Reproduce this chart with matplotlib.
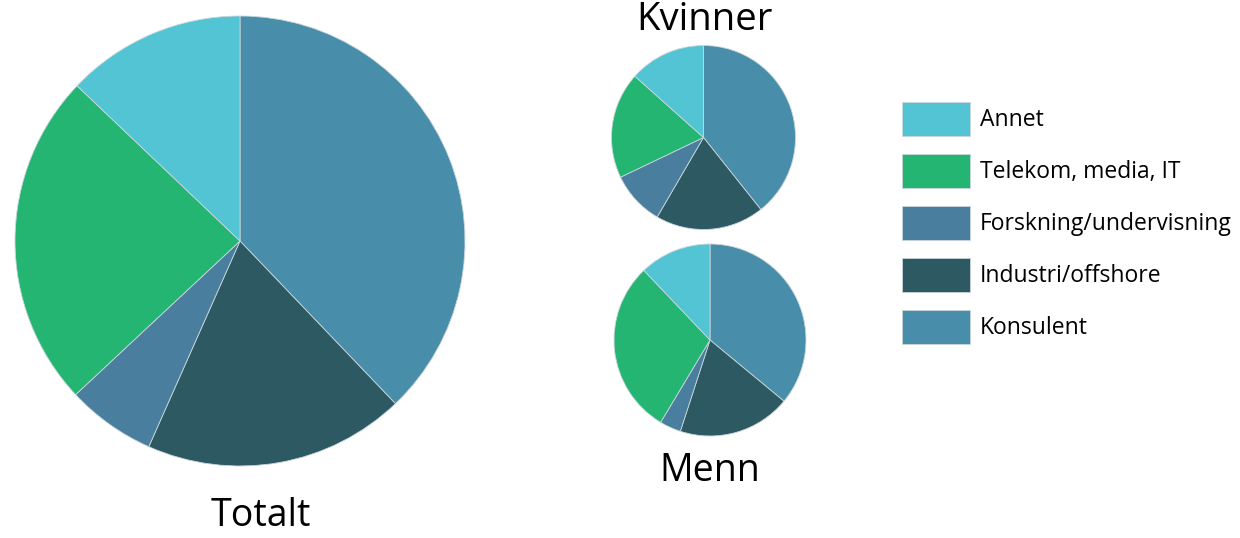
import matplotlib
matplotlib.use("Agg")
import matplotlib.pyplot as plt

plt.rcParams['font.family'] = ['Open Sans', 'DejaVu Sans']

# kategorier i tegnerekkefølge (med klokka fra toppen)
categories = ['Konsulent', 'Industri/offshore', 'Forskning/undervisning',
              'Telekom, media, IT', 'Annet']
colors = ['#488DAA', '#2D5962', '#4A7E9E', '#24B573', '#52C4D4']

totalt = [37.9, 18.8, 6.4, 24.1, 12.9]
kvinner = [39.3, 19.1, 9.5, 18.7, 13.4]
menn = [36.0, 19.0, 3.6, 29.3, 12.1]

legend_order = ['Annet', 'Telekom, media, IT', 'Forskning/undervisning',
                'Industri/offshore', 'Konsulent']

W, H = 1240, 538
fig = plt.figure(figsize=(W / 100, H / 100), dpi=100)


def pie_axes(cx, cy, r):
    # akser i pikselkoordinater, origo oppe til venstre
    return fig.add_axes([(cx - r) / W, (H - cy - r) / H, 2 * r / W, 2 * r / H])


def draw_pie(ax, values):
    wedges, _ = ax.pie(values, colors=colors, startangle=90, counterclock=False,
                       radius=1.0,
                       wedgeprops=dict(edgecolor='#c9d6da', linewidth=0.6))
    ax.set_xlim(-1.0, 1.0)
    ax.set_ylim(-1.0, 1.0)
    ax.set_aspect('auto')
    ax.axis('off')
    return wedges


ax_tot = pie_axes(240, 241, 225)
wedges = draw_pie(ax_tot, totalt)

ax_kv = pie_axes(703.5, 137.5, 92)
draw_pie(ax_kv, kvinner)

ax_me = pie_axes(710, 340, 96)
draw_pie(ax_me, menn)

# titler
fig.text(261 / W, 1 - 516 / H, 'Totalt', fontsize=27, ha='center', va='center')
fig.text(704 / W, 1 - 20 / H, 'Kvinner', fontsize=27.5, ha='center', va='center')
fig.text(710 / W, 1 - 471 / H, 'Menn', fontsize=27, ha='center', va='center')

# forklaring
handles = [wedges[categories.index(c)] for c in legend_order]
fs = 16.5
px = fs * 100 / 72
box_pt = 34 * 72 / 100
# legend trekker fra en descent på 0.35*fs*(hh-0.7)
hh = (box_pt - 0.245 * fs) / (0.65 * fs)
fig.legend(handles, legend_order, loc='upper left',
           bbox_to_anchor=(902 / W, 1 - 102 / H), frameon=False,
           fontsize=fs, borderpad=0, borderaxespad=0,
           handlelength=68 / px, handleheight=hh,
           labelspacing=18 / px, handletextpad=10 / px)

fig.savefig('out.png', dpi=100)
